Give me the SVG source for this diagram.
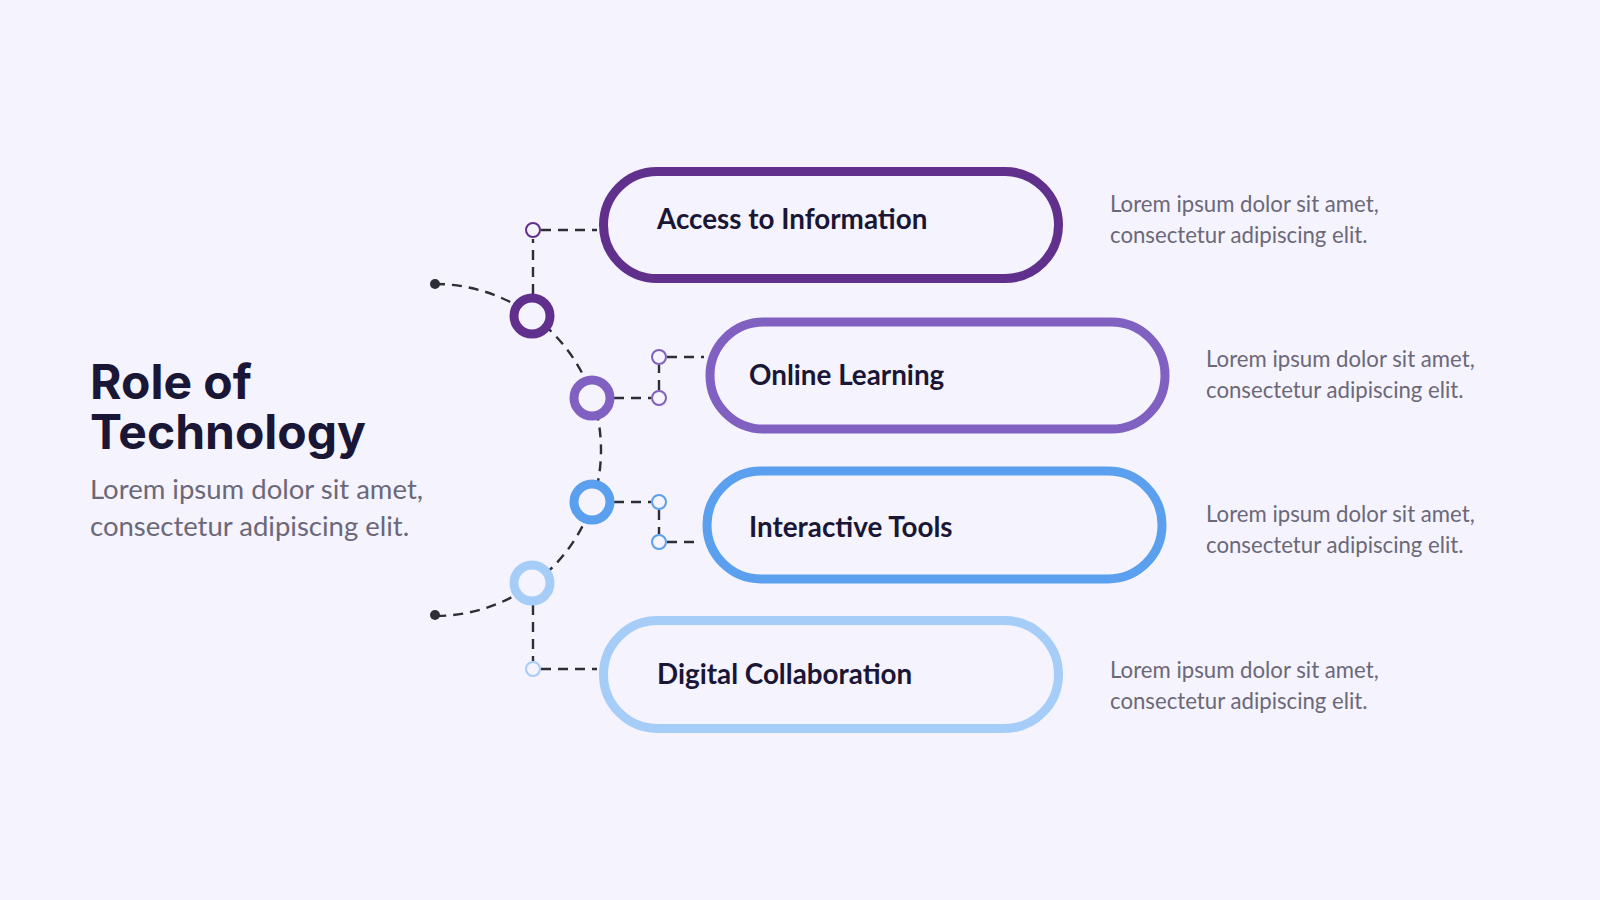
<svg xmlns="http://www.w3.org/2000/svg" width="1600" height="900" viewBox="0 0 1600 900">
<style>
.bg{fill:#f5f3fd}
.pill{fill:#f5f3fd;stroke-width:9}
.ring{fill:#f5f3fd;stroke-width:9}
.dot{fill:#f5f3fd;stroke-width:2}
.dash{fill:none;stroke:#2e2e36;stroke-width:2.4;stroke-dasharray:10 7}
.label{font-family:Lato,"Liberation Sans",sans-serif;font-weight:700;font-size:27.8px;fill:#1a1636}
.desc{font-family:Lato,"Liberation Sans",sans-serif;font-size:22.2px;fill:#6b6879}
.lead{font-family:Lato,"Liberation Sans",sans-serif;font-size:27.5px;fill:#6b6879}
.title{font-family:Inter,"Liberation Sans",sans-serif;font-weight:700;font-size:48px;fill:#1a1636}
.c1{stroke:#60308c}.c2{stroke:#8060c0}.c3{stroke:#5aa0ef}.c4{stroke:#a5cdf8}
</style>
<rect class="bg" x="0" y="0" width="1600" height="900"/>
<g id="title">
<text class="title"><tspan x="90" y="399">Role of</tspan><tspan x="90" y="449">Technology</tspan></text>
<text class="lead"><tspan x="90" y="499">Lorem ipsum dolor sit amet,</tspan><tspan x="90" y="536">consectetur adipiscing elit.</tspan></text>
</g>
<g id="connectors">
<path class="dash" d="M435,284 A166,166 0 0 1 435,616"/>
<path class="dash" d="M533,294 V239 M541,230 H597"/>
<path class="dash" d="M614,398 H651 M659,390 V365 M667,357 H704"/>
<path class="dash" d="M614,502 H651 M659,510 V534 M667,542 H701"/>
<path class="dash" d="M533,605 V661 M541,669 H597"/>
<circle cx="435" cy="284" r="5" fill="#2e2e36"/>
<circle cx="435" cy="615" r="5" fill="#2e2e36"/>
</g>
<g id="node1">
<circle class="ring c1" cx="532" cy="316" r="18"/>
<circle class="dot c1" cx="533" cy="230" r="7"/>
<rect class="pill c1" x="603.5" y="171.5" width="455" height="107" rx="53.5"/>
<text class="label" x="657" y="229">Access to Information</text>
<text class="desc"><tspan x="1110" y="212">Lorem ipsum dolor sit amet,</tspan><tspan x="1110" y="243">consectetur adipiscing elit.</tspan></text>
</g>
<g id="node2">
<circle class="ring c2" cx="592" cy="398" r="18"/>
<circle class="dot c2" cx="659" cy="398" r="7"/>
<circle class="dot c2" cx="659" cy="357" r="7"/>
<rect class="pill c2" x="710" y="322" width="455" height="107" rx="53.5"/>
<text class="label" x="749" y="385">Online Learning</text>
<text class="desc"><tspan x="1206" y="367">Lorem ipsum dolor sit amet,</tspan><tspan x="1206" y="398">consectetur adipiscing elit.</tspan></text>
</g>
<g id="node3">
<circle class="ring c3" cx="592" cy="502" r="18"/>
<circle class="dot c3" cx="659" cy="502" r="7"/>
<circle class="dot c3" cx="659" cy="542" r="7"/>
<rect class="pill c3" x="707" y="471" width="455" height="108" rx="54"/>
<text class="label" x="749" y="537">Interactive Tools</text>
<text class="desc"><tspan x="1206" y="522">Lorem ipsum dolor sit amet,</tspan><tspan x="1206" y="553">consectetur adipiscing elit.</tspan></text>
</g>
<g id="node4">
<circle class="ring c4" cx="532" cy="583" r="18"/>
<circle class="dot c4" cx="533" cy="669" r="7"/>
<rect class="pill c4" x="603.5" y="620.5" width="455" height="108" rx="54"/>
<text class="label" x="657" y="684">Digital Collaboration</text>
<text class="desc"><tspan x="1110" y="678">Lorem ipsum dolor sit amet,</tspan><tspan x="1110" y="709">consectetur adipiscing elit.</tspan></text>
</g>
</svg>
